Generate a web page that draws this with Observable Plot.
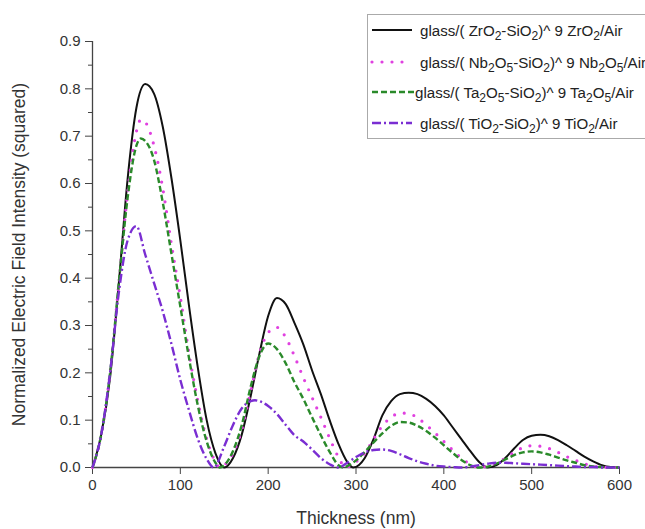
<!DOCTYPE html>
<html><head><meta charset="utf-8">
<script src="https://cdn.jsdelivr.net/npm/d3@7"></script>
<script src="https://cdn.jsdelivr.net/npm/@observablehq/plot@0.6"></script>
<style>
body{margin:0;background:#fff;font-family:"Liberation Sans",Arial,sans-serif;}
#wrap{position:relative;width:645px;height:529px;overflow:hidden;}
#legend{position:absolute;left:367px;top:14px;width:300px;height:125px;border:1px solid #aaa;background:#fff;box-sizing:border-box;}
.row{position:absolute;left:2px;height:20px;display:flex;align-items:center;font-size:15.1px;color:#222;white-space:nowrap;}
.row svg{margin-right:6px;flex:none}
sub{font-size:0.8em;vertical-align:-0.35em;line-height:0}
</style></head><body><div id="wrap"></div>
<script>
// ---- data ----
const tZr = [0,10,20,30,40,50,60,70,80,90,100,110,120,130,140,150,160,170,180,190,200,210,220,230,240,250,260,270,280,290,297,310,320,330,340,350,360,370,380,390,400,410,420,430,440,450,460,470,480,490,500,510,520,530,540,550,560,570,580,590,600];
const vZr = [0,0.07,0.19,0.39,0.61,0.76,0.81,0.79,0.72,0.61,0.48,0.34,0.21,0.10,0.03,0,0.02,0.07,0.15,0.24,0.32,0.358,0.345,0.305,0.26,0.205,0.155,0.10,0.05,0.012,0,0.02,0.06,0.11,0.14,0.155,0.158,0.155,0.145,0.13,0.11,0.085,0.06,0.035,0.012,0,0.005,0.02,0.04,0.058,0.067,0.069,0.066,0.058,0.047,0.035,0.023,0.013,0.005,0.001,0];

const tNb = [0,10,20,30,40,50,55,60,70,80,90,100,110,120,130,140,145,150,160,170,180,190,200,210,220,230,240,250,260,270,280,288,300,310,320,330,340,350,360,370,380,390,400,410,420,430,440,450,460,470,480,490,500,510,520,530,540,550,560,570,580,590,600];
const vNb = [0,0.07,0.2,0.39,0.58,0.71,0.735,0.73,0.68,0.59,0.47,0.36,0.24,0.14,0.06,0.012,0,0.005,0.03,0.08,0.16,0.24,0.285,0.296,0.275,0.235,0.19,0.148,0.106,0.062,0.022,0,0.012,0.03,0.06,0.088,0.106,0.115,0.114,0.105,0.09,0.073,0.055,0.037,0.02,0.007,0,0.003,0.01,0.02,0.032,0.042,0.046,0.045,0.04,0.032,0.023,0.015,0.008,0.003,0.001,0,0];

const tTa = [0,10,20,30,40,50,55,60,70,80,90,100,110,120,130,140,145,150,160,170,180,190,200,210,220,230,240,250,260,270,280,285,290,300,310,320,330,340,350,360,370,380,390,400,410,420,430,440,450,460,470,480,490,500,510,520,530,540,550,560,570,580,590,600];
const vTa = [0,0.07,0.2,0.39,0.57,0.68,0.695,0.69,0.65,0.56,0.45,0.34,0.23,0.13,0.055,0.01,0,0.005,0.035,0.09,0.17,0.235,0.262,0.25,0.22,0.18,0.145,0.106,0.068,0.033,0.005,0,0.003,0.015,0.033,0.053,0.072,0.088,0.096,0.095,0.088,0.077,0.063,0.047,0.031,0.016,0.005,0,0.002,0.008,0.017,0.026,0.032,0.034,0.032,0.027,0.021,0.015,0.01,0.005,0.002,0.001,0,0];

const tTi = [0,10,20,30,40,50,60,70,80,90,100,110,120,130,138,150,160,170,180,185,190,200,210,220,230,240,250,260,270,280,290,300,310,320,330,340,350,360,370,380,390,400,410,420,430,440,450,460,470,480,490,500,510,520,530,540,550,560,570,580,600];
const vTi = [0,0.07,0.2,0.37,0.48,0.51,0.45,0.39,0.33,0.26,0.185,0.12,0.06,0.018,0,0.045,0.09,0.125,0.14,0.142,0.14,0.13,0.113,0.09,0.068,0.055,0.038,0.02,0.007,0,0.01,0.022,0.032,0.037,0.038,0.035,0.028,0.02,0.013,0.008,0.004,0.002,0.001,0,0.002,0.005,0.008,0.01,0.01,0.009,0.008,0.007,0.006,0.005,0.004,0.003,0.002,0.001,0.001,0,0];

const xTicks = [0,100,200,300,400,500,600];
const yTicks = [0,0.1,0.2,0.3,0.4,0.5,0.6,0.7,0.8,0.9];
const yMinor = [0.05,0.15,0.25,0.35,0.45,0.55,0.65,0.75,0.85];
const xLabel = "Thickness (nm)";
const yLabel = "Normalized Electric Field Intensity (squared)";
const seriesNames = [
  "glass/( ZrO<sub>2</sub>-SiO<sub>2</sub>)^ 9 ZrO<sub>2</sub>/Air",
  "glass/( Nb<sub>2</sub>O<sub>5</sub>-SiO<sub>2</sub>)^ 9 Nb<sub>2</sub>O<sub>5</sub>/Air",
  "glass/( Ta<sub>2</sub>O<sub>5</sub>-SiO<sub>2</sub>)^ 9 Ta<sub>2</sub>O<sub>5</sub>/Air",
  "glass/( TiO<sub>2</sub>-SiO<sub>2</sub>)^ 9 TiO<sub>2</sub>/Air"
];

// ---- styles ----
const styles = [
  {stroke:"#111", strokeWidth:2, strokeDasharray:null, strokeLinecap:"butt"},
  {stroke:"#e040e0", strokeWidth:3.2, strokeDasharray:"0 10", strokeLinecap:"round"},
  {stroke:"#2a8a2a", strokeWidth:2.4, strokeDasharray:"6 3", strokeLinecap:"butt"},
  {stroke:"#7a2ed2", strokeWidth:2.4, strokeDasharray:"9 3 2 3", strokeLinecap:"butt"}
];
const seriesT = [tZr,tNb,tTa,tTi];
const seriesV = [vZr,vNb,vTa,vTi];

const lineMarks = seriesT.map((ts,i) => {
  const data = ts.map((t,j) => ({t, v: seriesV[i][j]}));
  const s = styles[i];
  const opts = {x:"t", y:"v", curve:"monotone-x", stroke:s.stroke, strokeWidth:s.strokeWidth, strokeLinecap:s.strokeLinecap};
  if (s.strokeDasharray) opts.strokeDasharray = s.strokeDasharray;
  return Plot.line(data, opts);
});

const chart = Plot.plot({
  width:645, height:529,
  marginLeft:92, marginRight:26, marginTop:41, marginBottom:62,
  x:{domain:[0,600]},
  y:{domain:[0,0.9]},
  style:{fontFamily:"'Liberation Sans', Arial, sans-serif", fontSize:"15px", color:"#333", background:"#fff"},
  marks:[
    Plot.axisY({ticks:yMinor, tickSize:4, text:null, label:null, stroke:"#444"}),
    Plot.axisY({ticks:yTicks, tickSize:7, tickPadding:5, tickFormat:d=>d.toFixed(1), label:null, stroke:"#444", fontSize:15}),
    Plot.axisX({ticks:xTicks, tickSize:7, tickPadding:5, tickFormat:d=>String(d), label:null, stroke:"#444", fontSize:15}),
    Plot.ruleX([0], {stroke:"#444", strokeWidth:1.3}),
    Plot.ruleY([0], {stroke:"#444", strokeWidth:1.3}),
    ...lineMarks,
    Plot.text([yLabel], {frameAnchor:"left", textAnchor:"middle", lineAnchor:"middle", rotate:-90, dx:-73, fontSize:17.5, fill:"#333"}),
    Plot.text([xLabel], {frameAnchor:"bottom", textAnchor:"middle", lineAnchor:"middle", dy:51, fontSize:17.5, fill:"#333"})
  ]
});

const wrap = document.getElementById("wrap");
wrap.appendChild(chart);

// legend
const legend = document.createElement("div");
legend.id = "legend";
const rowCenters = [16,48,78,109];
seriesNames.forEach((name,i) => {
  const s = styles[i];
  const row = document.createElement("div");
  row.className = "row";
  row.style.top = (rowCenters[i]-11) + "px";
  const dash = s.strokeDasharray ? `stroke-dasharray="${s.strokeDasharray}"` : "";
  row.innerHTML = `<svg width="44" height="10"><line x1="2" y1="5" x2="${i===2?47:42}" y2="5" stroke="${s.stroke}" stroke-width="${s.strokeWidth}" stroke-linecap="${s.strokeLinecap}" ${dash}/></svg><span style="${i===2?'margin-left:-5px':''}">${name}</span>`;
  legend.appendChild(row);
});
wrap.appendChild(legend);
</script></body></html>
